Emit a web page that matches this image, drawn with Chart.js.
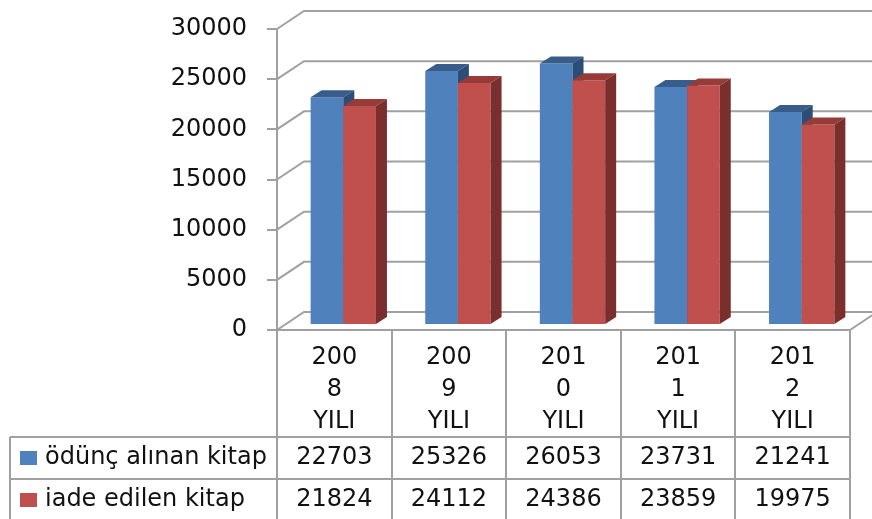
<!DOCTYPE html>
<html>
<head>
<meta charset="utf-8">
<script src="https://cdn.jsdelivr.net/npm/chart.js@4/dist/chart.umd.min.js"></script>
<style>
  html, body { margin: 0; padding: 0; background: #fff; }
  canvas { display: block; }
</style>
</head>
<body>
<canvas id="grafico" width="872" height="519"></canvas>
<script>
const categories = ['2008 YILI', '2009 YILI', '2010 YILI', '2011 YILI', '2012 YILI'];
const seriesNames = ['ödünç alınan kitap', 'iade edilen kitap'];
const oduncAlinan = [22703, 25326, 26053, 23731, 21241];
const iadeEdilen = [21824, 24112, 24386, 23859, 19975];
const yMin = 0;
const yMax = 30000;
const yStep = 5000;

const FONT = 'DejaVu Sans';
const FONT_SIZE = 24;
const GRID = '#a0a0a0';
const frontColors = ['#4f81bd', '#c0504d'];
const topColors = ['#385d8a', '#973b38'];
const sideColors = ['#2c4d75', '#7b2f2d'];

// 3D look: bars sit a bit behind the front plane, walls further back
const FRONT = { dx: 9, dy: -5 };
const DEPTH = { dx: 11, dy: -7 };
const WALL = { dx: 27, dy: -18 };

// "2008 YILI" is wrapped in the narrow table cell like "200 / 8 / YILI"
function wrapLabel(label) {
  const [year, word] = label.split(' ');
  return [year.slice(0, 3), year.slice(3), word];
}

const walls = {
  id: 'walls',
  beforeDatasetsDraw(chart) {
    const ctx = chart.ctx;
    const { left, right, bottom } = chart.chartArea;
    const y = chart.scales.y;
    ctx.save();
    ctx.strokeStyle = GRID;
    ctx.lineWidth = 2;
    ctx.beginPath();
    y.ticks.forEach((t) => {
      const py = y.getPixelForValue(t.value);
      ctx.moveTo(left, py);
      ctx.lineTo(left + WALL.dx, py + WALL.dy);
      ctx.lineTo(right + WALL.dx + 20, py + WALL.dy);
    });
    ctx.moveTo(right, bottom);
    ctx.lineTo(right + WALL.dx, bottom + WALL.dy);
    ctx.stroke();
    ctx.restore();
  },
  // bars are drawn below, category by category, so faces overlap correctly
  beforeDatasetDraw() {
    return false;
  },
  afterDatasetsDraw(chart) {
    const ctx = chart.ctx;
    const metas = [chart.getDatasetMeta(0), chart.getDatasetMeta(1)];
    ctx.save();
    ctx.translate(FRONT.dx, FRONT.dy);
    categories.forEach((cat, c) => {
      metas.forEach((meta, i) => {
        const bar = meta.data[c];
        const l = bar.x - bar.width / 2;
        const r = bar.x + bar.width / 2;
        const t = bar.y;
        const b = bar.base;
        bar.draw(ctx);
        ctx.fillStyle = topColors[i];
        ctx.beginPath();
        ctx.moveTo(l, t);
        ctx.lineTo(r, t);
        ctx.lineTo(r + DEPTH.dx, t + DEPTH.dy);
        ctx.lineTo(l + DEPTH.dx, t + DEPTH.dy);
        ctx.closePath();
        ctx.fill();
        ctx.fillStyle = sideColors[i];
        ctx.beginPath();
        ctx.moveTo(r, t);
        ctx.lineTo(r + DEPTH.dx, t + DEPTH.dy);
        ctx.lineTo(r + DEPTH.dx, b + DEPTH.dy);
        ctx.lineTo(r, b);
        ctx.closePath();
        ctx.fill();
      });
    });
    ctx.restore();
  }
};

const dataTable = {
  id: 'dataTable',
  afterDraw(chart) {
    const ctx = chart.ctx;
    const { left, right, bottom } = chart.chartArea;
    const xs = chart.scales.x;
    const half = (xs.getPixelForValue(1) - xs.getPixelForValue(0)) / 2;
    const tableLeft = 10;
    const row1 = 437;
    const row2 = 479;
    const end = chart.height + 2;
    const rows = [oduncAlinan, iadeEdilen];

    ctx.save();
    ctx.strokeStyle = GRID;
    ctx.lineWidth = 2;
    ctx.beginPath();
    ctx.moveTo(left, bottom);
    ctx.lineTo(right, bottom);
    [row1, row2].forEach((ry) => {
      ctx.moveTo(tableLeft, ry);
      ctx.lineTo(right, ry);
    });
    ctx.moveTo(tableLeft, row1);
    ctx.lineTo(tableLeft, end);
    for (let c = 0; c <= categories.length; c++) {
      const px = Math.round(xs.getPixelForValue(c) - half);
      ctx.moveTo(px, bottom);
      ctx.lineTo(px, end);
    }
    ctx.stroke();

    ctx.fillStyle = '#111';
    ctx.font = FONT_SIZE + 'px "' + FONT + '"';
    ctx.textAlign = 'center';
    ctx.textBaseline = 'middle';
    categories.forEach((cat, c) => {
      const cx = xs.getPixelForValue(c);
      wrapLabel(cat).forEach((line, k) => {
        ctx.fillText(line, cx, 358 + k * 32);
      });
      rows.forEach((row, r) => {
        ctx.fillText(String(row[c]), cx, [row1, row2][r] + 21);
      });
    });

    ctx.textAlign = 'left';
    seriesNames.forEach((name, r) => {
      const ry = [row1, row2][r] + 21;
      ctx.fillStyle = frontColors[r];
      ctx.fillRect(20, ry - 7, 17, 14);
      ctx.fillStyle = '#111';
      ctx.fillText(name, 45, ry);
    });
    ctx.restore();
  }
};

new Chart(document.getElementById('grafico'), {
  type: 'bar',
  data: {
    labels: categories,
    datasets: [
      { label: seriesNames[0], data: oduncAlinan, backgroundColor: frontColors[0], borderWidth: 0 },
      { label: seriesNames[1], data: iadeEdilen, backgroundColor: frontColors[1], borderWidth: 0 }
    ]
  },
  options: {
    responsive: false,
    animation: false,
    devicePixelRatio: 1,
    layout: { padding: { left: 0, top: 29, right: 22, bottom: 189 } },
    datasets: { bar: { categoryPercentage: 0.57, barPercentage: 1 } },
    plugins: { legend: { display: false }, tooltip: { enabled: false } },
    scales: {
      x: { display: false },
      y: {
        min: yMin,
        max: yMax,
        ticks: {
          stepSize: yStep,
          padding: 20,
          color: '#111',
          font: { family: FONT, size: FONT_SIZE },
          callback: (v) => String(v)
        },
        grid: { drawOnChartArea: false, tickLength: 10, color: GRID, lineWidth: 2 },
        border: { color: GRID, width: 2 },
        afterFit: (s) => {
          s.width = 277;
          s.paddingTop = 0;
          s.paddingBottom = 0;
        }
      }
    }
  },
  plugins: [walls, dataTable]
});
</script>
</body>
</html>
